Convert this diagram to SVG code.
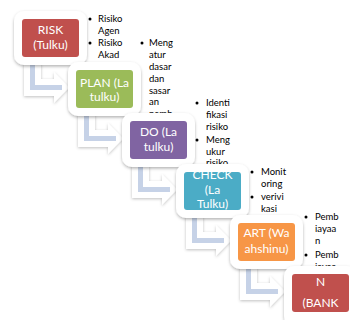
<svg xmlns="http://www.w3.org/2000/svg" width="350" height="320" viewBox="0 0 350 320">
<style>
.outer{fill:#fff;filter:url(#sh)}
.arr{fill:#fff;filter:url(#sh2)}
.line{fill:none;stroke:#C6D2E7;stroke-width:5}
.lbl{font-family:Lato,"Open Sans","Liberation Sans",sans-serif;font-size:12px;fill:#fff;text-anchor:middle}
.bul{font-family:Lato,"Open Sans","Liberation Sans",sans-serif;font-size:9.5px;fill:#000}
.dot{fill:#000}
</style>
<defs>
<filter id="sh" x="-20%" y="-20%" width="140%" height="150%">
<feDropShadow dx="0" dy="1.5" stdDeviation="1.8" flood-color="#000" flood-opacity="0.3"/>
</filter>
<filter id="sh2" x="-30%" y="-30%" width="160%" height="160%">
<feDropShadow dx="0" dy="1" stdDeviation="1.5" flood-color="#000" flood-opacity="0.25"/>
</filter>
<clipPath id="c1"><rect x="22" y="19" width="57" height="38" rx="3"/></clipPath>
<clipPath id="c2"><rect x="76" y="70" width="57" height="38" rx="3"/></clipPath>
<clipPath id="c3"><rect x="130" y="121" width="57" height="38" rx="3"/></clipPath>
<clipPath id="c4"><rect x="184" y="172" width="57" height="38" rx="3"/></clipPath>
<clipPath id="c5"><rect x="238" y="223" width="57" height="38" rx="3"/></clipPath>
<clipPath id="c6"><rect x="292" y="274" width="57" height="38" rx="3"/></clipPath>
</defs>
<rect width="350" height="320" fill="#fff"/>
<g id="connectors">
<g transform="translate(22,19)"><polygon class="arr" points="2,44 19,44 19,60 32,60 32,53 47,68.5 32,84 32,77 2,77"/><path class="line" d="M10.5,44 V68.5 H40"/></g>
<g transform="translate(76,70)"><polygon class="arr" points="2,44 19,44 19,60 32,60 32,53 47,68.5 32,84 32,77 2,77"/><path class="line" d="M10.5,44 V68.5 H40"/></g>
<g transform="translate(130,121)"><polygon class="arr" points="2,44 19,44 19,60 32,60 32,53 47,68.5 32,84 32,77 2,77"/><path class="line" d="M10.5,44 V68.5 H40"/></g>
<g transform="translate(184,172)"><polygon class="arr" points="2,44 19,44 19,60 32,60 32,53 47,68.5 32,84 32,77 2,77"/><path class="line" d="M10.5,44 V68.5 H40"/></g>
<g transform="translate(238,223)"><polygon class="arr" points="2,44 19,44 19,60 32,60 32,53 47,68.5 32,84 32,77 2,77"/><path class="line" d="M10.5,44 V68.5 H40"/></g>
</g>
<g id="risk">
<rect class="outer" x="14" y="11" width="73" height="54" rx="10"/>
<rect x="22" y="19" width="57" height="38" rx="3" fill="#C0504D"/>
<g clip-path="url(#c1)"><text class="lbl" x="50.5" y="34">RISK</text><text class="lbl" x="50.5" y="49">(Tulku)</text></g>
<circle class="dot" cx="90" cy="19" r="1.5"/><circle class="dot" cx="90" cy="43" r="1.5"/>
<text class="bul"><tspan x="98" y="22">Risiko</tspan><tspan x="98" y="34">Agen</tspan><tspan x="98" y="46">Risiko</tspan><tspan x="98" y="58">Akad</tspan></text>
</g>
<g id="plan">
<rect class="outer" x="68" y="62" width="73" height="54" rx="10"/>
<rect x="76" y="70" width="57" height="38" rx="3" fill="#9BBB59"/>
<g clip-path="url(#c2)"><text class="lbl" x="104.5" y="87">PLAN (La</text><text class="lbl" x="104.5" y="101">tulku)</text></g>
<circle class="dot" cx="142" cy="43" r="1.5"/>
<text class="bul"><tspan x="149" y="46">Meng</tspan><tspan x="149" y="58">atur</tspan><tspan x="149" y="70">dasar</tspan><tspan x="149" y="82">dan</tspan><tspan x="149" y="93.5">sasar</tspan><tspan x="149" y="105">an</tspan><tspan x="149" y="116.5">pemb</tspan></text>
</g>
<g id="do">
<rect class="outer" x="122" y="113" width="73" height="54" rx="10"/>
<rect x="130" y="121" width="57" height="38" rx="3" fill="#8064A2"/>
<g clip-path="url(#c3)"><text class="lbl" x="158.5" y="136">DO (La</text><text class="lbl" x="158.5" y="151">tulku)</text></g>
<circle class="dot" cx="197" cy="103" r="1.5"/><circle class="dot" cx="197" cy="140" r="1.5"/>
<text class="bul"><tspan x="206" y="106">Identi</tspan><tspan x="206" y="118">fikasi</tspan><tspan x="206" y="130">risiko</tspan><tspan x="206" y="143">Meng</tspan><tspan x="206" y="154.5">ukur</tspan><tspan x="206" y="166">risiko</tspan></text>
</g>
<g id="check">
<rect class="outer" x="176" y="164" width="73" height="54" rx="10"/>
<rect x="184" y="172" width="57" height="38" rx="3" fill="#4BACC6"/>
<g clip-path="url(#c4)"><text class="lbl" x="212.5" y="179">CHECK</text><text class="lbl" x="212.5" y="194">(La</text><text class="lbl" x="212.5" y="208">Tulku)</text></g>
<circle class="dot" cx="252" cy="172" r="1.5"/><circle class="dot" cx="252" cy="197" r="1.5"/>
<text class="bul"><tspan x="261" y="175">Monit</tspan><tspan x="261" y="187">oring</tspan><tspan x="261" y="200">verivi</tspan><tspan x="261" y="212">kasi</tspan></text>
</g>
<g id="art">
<rect class="outer" x="230" y="215" width="73" height="54" rx="10"/>
<rect x="238" y="223" width="57" height="38" rx="3" fill="#F79646"/>
<g clip-path="url(#c5)"><text class="lbl" x="266.5" y="237">ART (Wa</text><text class="lbl" x="266.5" y="253">ahshinu)</text></g>
<circle class="dot" cx="306" cy="217" r="1.5"/><circle class="dot" cx="306" cy="255" r="1.5"/>
<text class="bul"><tspan x="315" y="220">Pemb</tspan><tspan x="315" y="232">iayaa</tspan><tspan x="315" y="244">n</tspan><tspan x="315" y="258">Pemb</tspan><tspan x="315" y="270">iayaa</tspan></text>
</g>
<g id="bank">
<rect class="outer" x="284" y="266" width="73" height="60" rx="10"/>
<rect x="292" y="274" width="57" height="38" rx="3" fill="#C0504D"/>
<g clip-path="url(#c6)"><text class="lbl" x="320.5" y="286">N</text><text class="lbl" x="320.5" y="307">(BANK</text></g>
</g>
</svg>
